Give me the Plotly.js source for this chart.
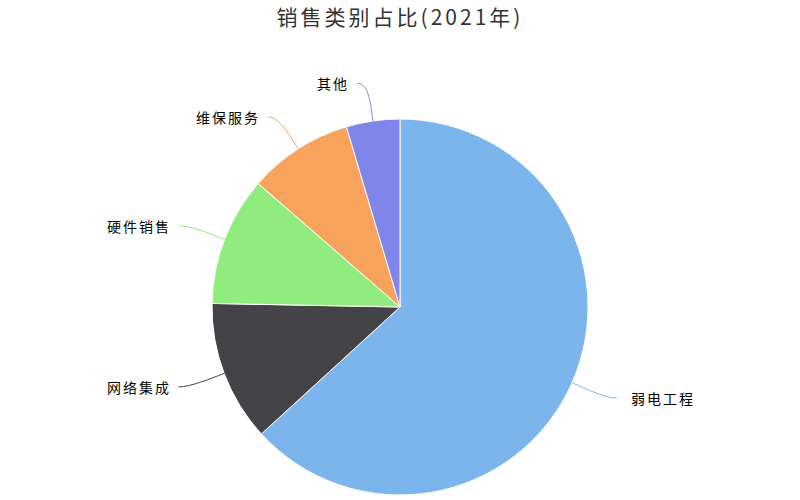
<!DOCTYPE html>
<html>
<head>
<meta charset="utf-8">
<script src="https://cdn.plot.ly/plotly-3.0.1.min.js"></script>
<style>
  html, body { margin: 0; padding: 0; background: #fff; }
  #chart { width: 800px; height: 500px; }
  #chart .gtitle { letter-spacing: 3px; }
  #chart .annotation-text { letter-spacing: 2px; }
</style>
</head>
<body>
<div id="chart"></div>
<script>
// 2021 sales share by category
const categories = ['弱电工程', '网络集成', '硬件销售', '维保服务', '其他'];
const shares = [63.2, 12.1, 11.1, 9.0, 4.6];
const colors = ['#7cb5ec', '#434348', '#90ed7d', '#f7a35c', '#8085e9'];

const W = 800, H = 500;
const CX = 400, CY = 307, R = 188;   // pie placement in px
const LABEL_DIST = 38;
const FONT = '"Noto Sans CJK SC", "Noto Sans", sans-serif';

const px = x => x / W;
const py = y => 1 - y / H;

// connector + label positions follow each slice's mid angle (clockwise from 12 o'clock)
const total = shares.reduce((a, b) => a + b, 0);
const shapes = [];
const annotations = [];
let acc = 0;
shares.forEach((v, i) => {
    const mid = (acc + v / 2) / total * 2 * Math.PI;
    acc += v;
    const s = Math.sin(mid), c = Math.cos(mid);
    const side = s >= 0 ? 1 : -1;
    const x0 = CX + R * s, y0 = CY - R * c;
    const x1 = CX + (R + 15) * s, y1 = CY - (R + 15) * c;
    const ex = CX + (R + LABEL_DIST) * s + side * 10, ey = CY - (R + LABEL_DIST) * c;
    const x2 = ex - side * 12, y2 = ey;
    shapes.push({
        type: 'path', xref: 'paper', yref: 'paper',
        path: `M ${px(x0)} ${py(y0)} C ${px(x1)} ${py(y1)}, ${px(x2)} ${py(y2)}, ${px(ex)} ${py(ey)}`,
        line: { color: colors[i], width: 1 }
    });
    annotations.push({
        xref: 'paper', yref: 'paper', x: px(ex + side * (side > 0 ? 12 : 6)), y: py(ey),
        xanchor: side > 0 ? 'left' : 'right', yanchor: 'middle',
        align: side > 0 ? 'left' : 'right',
        text: categories[i], showarrow: false,
        font: { family: FONT, size: 14, color: '#000' }
    });
});

const trace = {
    type: 'pie',
    labels: categories,
    values: shares,
    marker: { colors: colors, line: { color: '#ffffff', width: 1 } },
    sort: false,
    direction: 'clockwise',
    rotation: 0,
    textinfo: 'none',
    hoverinfo: 'label+percent',
    domain: { x: [px(CX - R), px(CX + R)], y: [py(CY + R), py(CY - R)] }
};

const layout = {
    width: W, height: H,
    margin: { l: 0, r: 0, t: 0, b: 0 },
    paper_bgcolor: '#ffffff',
    showlegend: false,
    title: { text: '销售类别占比(2021年)', x: 0.5, xanchor: 'center', y: 1 - 18 / H, yanchor: 'middle',
             font: { family: FONT, size: 21, color: '#333333' } },
    shapes: shapes,
    annotations: annotations
};

Plotly.newPlot('chart', [trace], layout, { displayModeBar: false, staticPlot: true });
</script>
</body>
</html>
